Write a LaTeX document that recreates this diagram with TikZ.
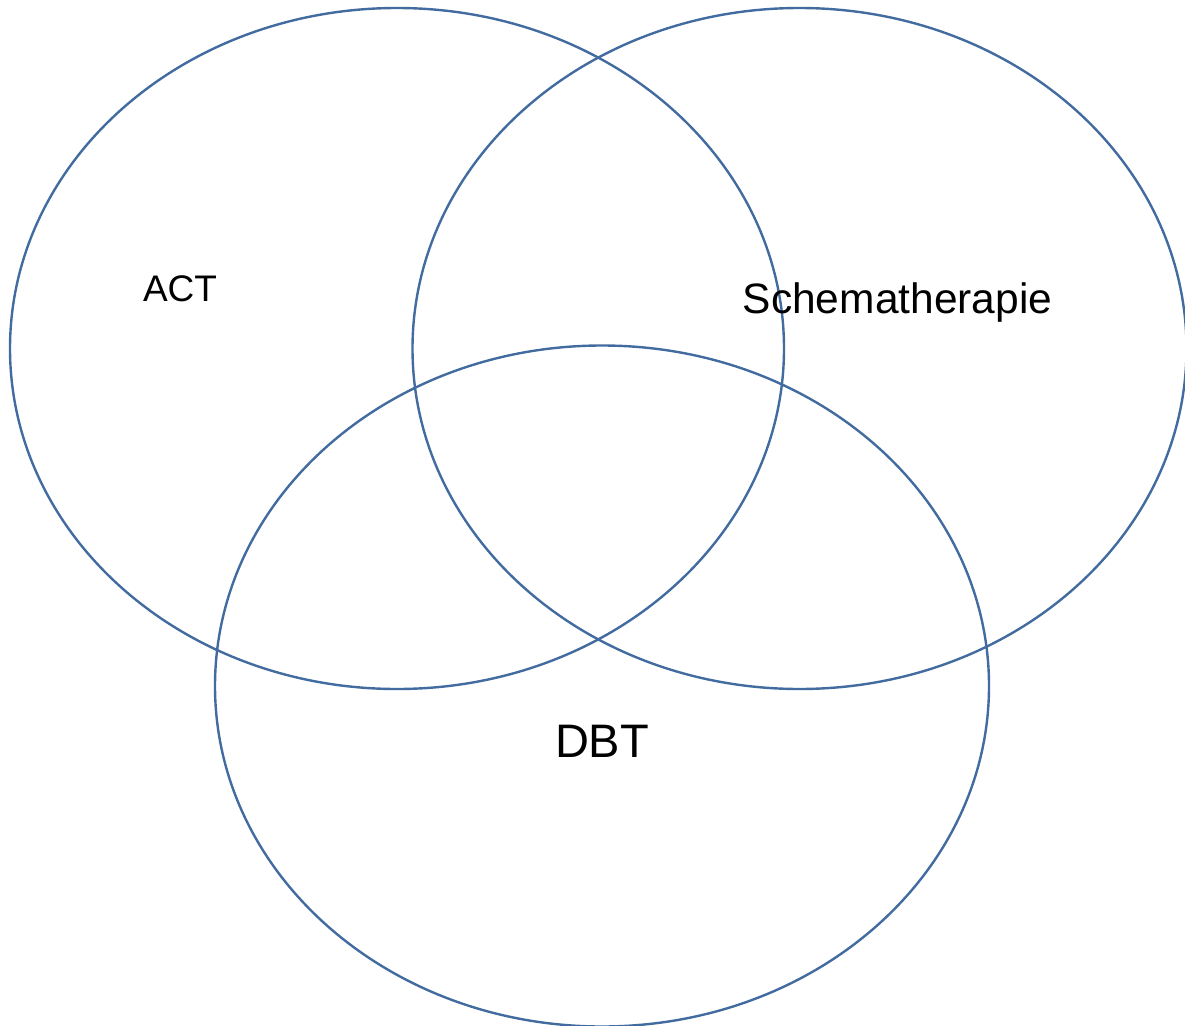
\documentclass[tikz,border=0pt]{standalone}
\usepackage{fontspec}
\setmainfont{Liberation Sans}
\usetikzlibrary{shapes.geometric}
\definecolor{setblue}{RGB}{66,107,160}

\begin{document}
\begin{tikzpicture}[x=1pt,y=-1pt,
	set/.style={shape=ellipse,draw=setblue,line width=2.4pt,inner sep=0pt,
		minimum width=774pt,minimum height=681pt},
	setname/.style={inner sep=0pt,text=black}]
	\useasboundingbox (0,0) rectangle (1185,1025);
	
	\node[set] (actset)    at (397, 348.5) {};
	\node[set] (schemaset) at (799.5, 348.5) {};
	\node[set] (dbtset)    at (602, 686) {};
	
	\node[setname,font=\fontsize{37}{44}\selectfont] (act)    at (180, 289) {ACT};
	\node[setname,font=\fontsize{42.5}{50}\selectfont] (schema) at (897.5, 303) {Schematherapie};
	\node[setname,font=\fontsize{47}{56}\selectfont] (dbt)    at (602, 741) {DBT};
	
\end{tikzpicture}
\end{document}
